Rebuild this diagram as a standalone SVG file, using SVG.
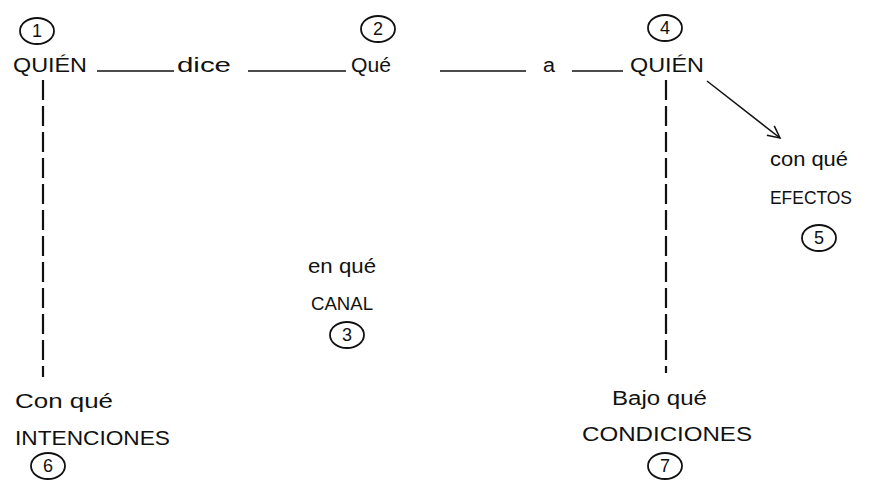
<svg xmlns="http://www.w3.org/2000/svg" width="876" height="481" viewBox="0 0 876 481">
<style>
text{font-family:"Liberation Sans",Arial,sans-serif;font-size:20px;fill:#111}
.s{font-size:18.5px}
.n{font-size:18px;text-anchor:middle}
.c{fill:none;stroke:#111;stroke-width:1.8}
.b{stroke:#111;stroke-width:1.6}
.d{stroke:#111;stroke-width:2.2;stroke-dasharray:20 6}
</style>
<defs>
<marker id="ah" markerWidth="16" markerHeight="16" refX="13" refY="8" orient="auto" markerUnits="userSpaceOnUse">
<path d="M1,2 L13,8 L1,14" fill="none" stroke="#111" stroke-width="1.5"/>
</marker>
</defs>
<g id="connectors">
<line class="b" x1="97" y1="71" x2="174" y2="71"/>
<line class="b" x1="248" y1="71" x2="346" y2="71"/>
<line class="b" x1="440" y1="71" x2="526" y2="71"/>
<line class="b" x1="572" y1="71" x2="623" y2="71"/>
<line class="d" x1="43" y1="80" x2="43" y2="377"/>
<line class="d" x1="666" y1="80" x2="666" y2="373"/>
<line stroke="#111" stroke-width="1.5" x1="707" y1="81" x2="780" y2="138" marker-end="url(#ah)"/>
</g>
<g id="n1">
<ellipse class="c" cx="37" cy="31" rx="17" ry="13"/>
<text class="n" x="37" y="37">1</text>
<text x="13" y="72" textLength="74" lengthAdjust="spacingAndGlyphs">QUIÉN</text>
</g>
<g id="dice"><text x="177" y="72" textLength="54" lengthAdjust="spacingAndGlyphs">dice</text></g>
<g id="n2">
<ellipse class="c" cx="378" cy="29" rx="17" ry="13"/>
<text class="n" x="378" y="35">2</text>
<text x="351" y="72" textLength="40" lengthAdjust="spacingAndGlyphs">Qué</text>
</g>
<g id="a"><text x="543" y="72" textLength="12" lengthAdjust="spacingAndGlyphs">a</text></g>
<g id="n4">
<ellipse class="c" cx="665" cy="28" rx="17" ry="13"/>
<text class="n" x="665" y="34">4</text>
<text x="630" y="72" textLength="74" lengthAdjust="spacingAndGlyphs">QUIÉN</text>
</g>
<g id="n5">
<text x="770" y="166" textLength="78" lengthAdjust="spacingAndGlyphs">con qué</text>
<text class="s" x="770" y="204" textLength="82" lengthAdjust="spacingAndGlyphs">EFECTOS</text>
<ellipse class="c" cx="819" cy="238" rx="17" ry="13"/>
<text class="n" x="819" y="244">5</text>
</g>
<g id="n3">
<text x="308" y="273" textLength="68" lengthAdjust="spacingAndGlyphs">en qué</text>
<text class="s" x="311" y="310" textLength="62" lengthAdjust="spacingAndGlyphs">CANAL</text>
<ellipse class="c" cx="347" cy="335" rx="17" ry="13"/>
<text class="n" x="347" y="341">3</text>
</g>
<g id="n6">
<text x="15" y="408" textLength="98" lengthAdjust="spacingAndGlyphs">Con qué</text>
<text x="15" y="445" textLength="155" lengthAdjust="spacingAndGlyphs">INTENCIONES</text>
<ellipse class="c" cx="48" cy="466" rx="17" ry="13"/>
<text class="n" x="48" y="472">6</text>
</g>
<g id="n7">
<text x="612" y="405" textLength="95" lengthAdjust="spacingAndGlyphs">Bajo qué</text>
<text x="582" y="441" textLength="170" lengthAdjust="spacingAndGlyphs">CONDICIONES</text>
<ellipse class="c" cx="665" cy="466" rx="17" ry="13"/>
<text class="n" x="665" y="472">7</text>
</g>
</svg>
